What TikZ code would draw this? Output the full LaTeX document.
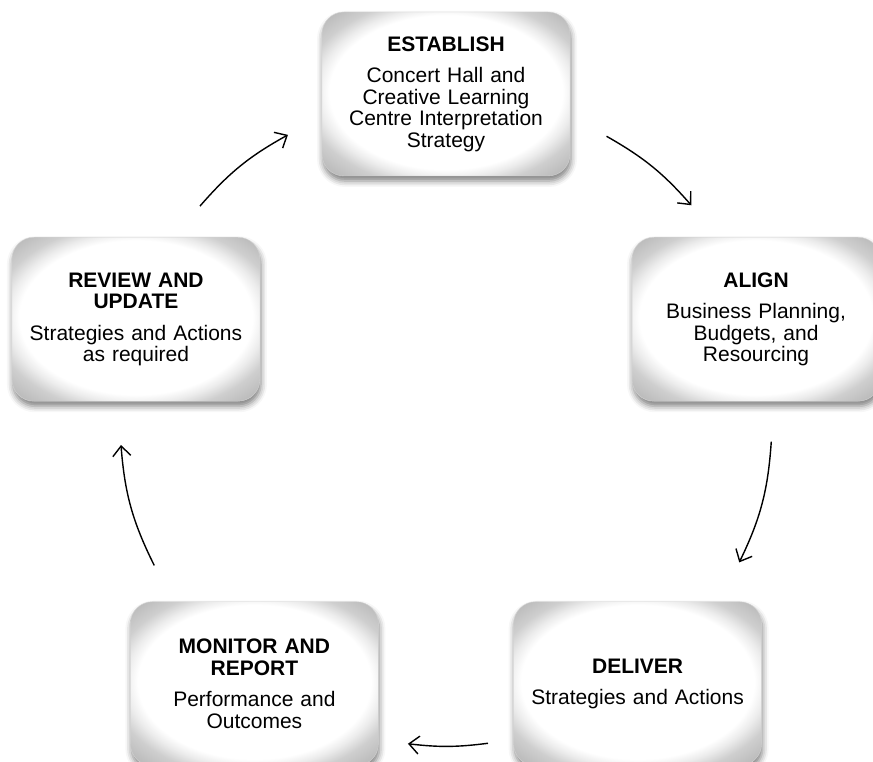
\documentclass[tikz,border=0pt]{standalone}
\usepackage{fontspec}
\setmainfont{Liberation Sans}
\usetikzlibrary{arrows.meta,calc,shadows.blur}

\pgfdeclareradialshading{stageglow}{\pgfpoint{0bp}{1bp}}{color(0bp)=(white); color(23.5bp)=(white); color(26bp)=(gray!15); color(29bp)=(gray!38); color(33bp)=(gray!52); color(50bp)=(gray!52)}

\begin{document}
\begin{tikzpicture}[x=1pt, y=1pt,
  stage/.style={draw=gray!35, line width=0.4pt, rounded corners=22pt, minimum width=248pt, minimum height=164pt, text width=236pt, align=center, shade, shading=stageglow, blur shadow={shadow xshift=1pt, shadow yshift=-5pt, shadow blur radius=6pt, shadow opacity=50}, font=\fontsize{21}{21.5}\selectfont},
  cyc/.style={-{Straight Barb[length=10pt, width=18pt]}, line width=1.4pt, bend left=#1},
]
\useasboundingbox (0,0) rectangle (873,762);

\coordinate (hub) at (446,342);

% five stages round the cycle
\node[stage] (establish) at ($(hub)+(90:326)$) {\textbf{ESTABLISH}\\[10pt]Concert Hall and\\Creative Learning\\Centre Interpretation\\Strategy};
\node[stage] (align) at ($(hub)+(18:326)$) {\textbf{ALIGN}\\[10pt]Business Planning,\\Budgets, and\\Resourcing};
\node[stage] (deliver) at ($(hub)+(306:326)$) {\textbf{DELIVER}\\[10pt]Strategies and Actions};
\node[stage] (monitor) at ($(hub)+(234:326)$) {\textbf{MONITOR AND}\\\textbf{REPORT}\\[10pt]Performance and\\Outcomes};
\node[stage] (review) at ($(hub)+(162:326)$) {\textbf{REVIEW AND}\\\textbf{UPDATE}\\[10pt]Strategies and Actions\\as required};

% arrow ends on the same circle
\coordinate (r2e-a) at ($(hub)+(139:326)$);
\coordinate (r2e-b) at ($(hub)+(119:326)$);
\coordinate (e2a-a) at ($(hub)+(60.5:326)$);
\coordinate (e2a-b) at ($(hub)+(41.2:326)$);
\coordinate (a2d-a) at ($(hub)+(-3.8:326)$);
\coordinate (a2d-b) at ($(hub)+(-25.9:326)$);
\coordinate (d2m-a) at ($(hub)+(-82.6:326)$);
\coordinate (d2m-b) at ($(hub)+(-96.7:326)$);
\coordinate (m2r-a) at ($(hub)+(206.5:326)$);
\coordinate (m2r-b) at ($(hub)+(184.4:326)$);

\draw[cyc=10] (r2e-a) to (r2e-b);
\draw[cyc=9.6] (e2a-a) to (e2a-b);
\draw[cyc=11] (a2d-a) to (a2d-b);
\draw[cyc=7] (d2m-a) to (d2m-b);
\draw[cyc=11] (m2r-a) to (m2r-b);

\end{tikzpicture}
\end{document}
